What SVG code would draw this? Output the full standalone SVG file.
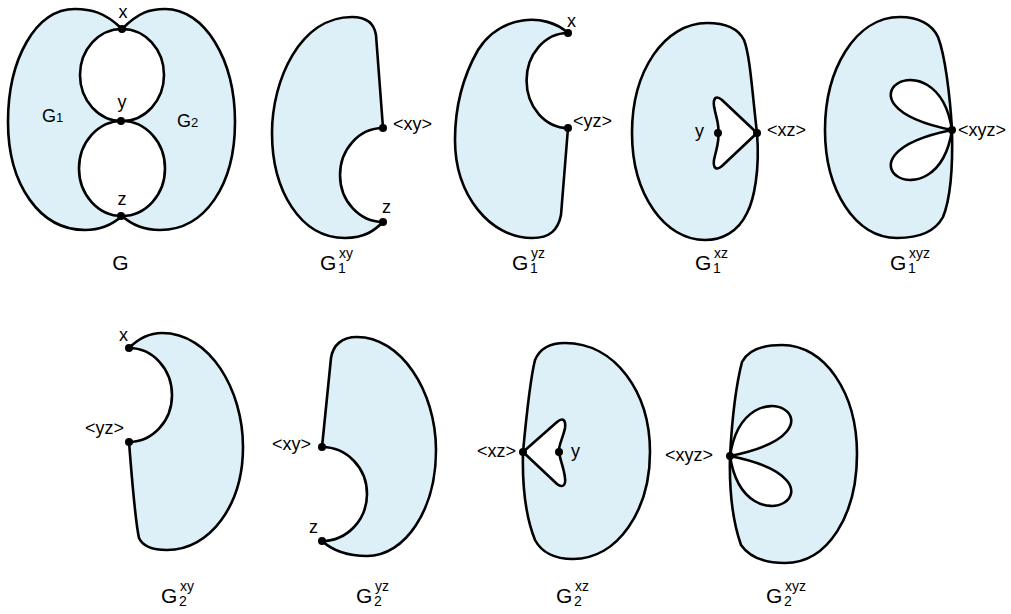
<svg xmlns="http://www.w3.org/2000/svg" width="1011" height="614" viewBox="0 0 1011 614">
<defs>
<style>
.sh{fill:#ddf0f8;stroke:#000;stroke-width:2.6;stroke-linejoin:round}
.fillonly{fill:#ddf0f8;stroke:none}
.ln{fill:none;stroke:#000;stroke-width:2.6}
.hole{fill:#fff;stroke:#000;stroke-width:2.6;stroke-linejoin:round}
.dot{fill:#000}
text{font-family:"Liberation Sans",Arial,sans-serif;fill:#000}
.lb{font-size:18px}
.big{font-size:21px}
.sm{font-size:14px}
</style>
</defs>
<rect width="1011" height="614" fill="#fff"/>

<g id="G">
<path class="fillonly" d="M122,29 C105,12 90,9 75,9 C35,9 8,60 8,122 C8,185 40,230 85,230 C100,230 112,225 122,216 Z"/>
<path class="fillonly" d="M122,29 C139,12 150,9 165,9 C205,9 235,60 235,122 C235,185 205,230 160,230 C145,230 132,225 122,216 Z"/>
<path class="ln" d="M122,29 C105,12 90,9 75,9 C35,9 8,60 8,122 C8,185 40,230 85,230 C100,230 112,225 122,216"/>
<path class="ln" d="M122,29 C139,12 150,9 165,9 C205,9 235,60 235,122 C235,185 205,230 160,230 C145,230 132,225 122,216"/>
<ellipse class="hole" cx="122" cy="75" rx="42" ry="46"/>
<ellipse class="hole" cx="122" cy="168.5" rx="43" ry="47.5"/>
<circle class="dot" cx="122" cy="29" r="4"/>
<circle class="dot" cx="121" cy="121" r="4"/>
<circle class="dot" cx="121" cy="216" r="4"/>
<text class="lb" x="123" y="18" text-anchor="middle">x</text>
<text class="lb" x="122" y="108" text-anchor="middle">y</text>
<text class="lb" x="122" y="205" text-anchor="middle">z</text>
<text class="lb" x="42" y="122">G<tspan font-size="13">1</tspan></text>
<text class="lb" x="177" y="127">G<tspan font-size="13">2</tspan></text>
<text class="big" x="120.5" y="270" text-anchor="middle">G</text>
</g>

<g id="G1xy">
<path class="sh" d="M383,128 L376,35 C374,22 365,17 352,17 C300,17 272,80 272,133 C272,190 300,238 345,238 C365,238 375,230 383,222 A43,47 0 0 1 383,128 Z"/>
<circle class="dot" cx="383" cy="128" r="4"/>
<circle class="dot" cx="383" cy="222" r="4"/>
<text class="lb" x="393" y="130">&lt;xy&gt;</text>
<text class="lb" x="382" y="213">z</text>
<text class="big" x="320" y="270">G</text>
<text class="sm" x="338" y="273">1</text>
<text class="sm" x="339" y="258">xy</text>
</g>

<g id="G1yz">
<path class="sh" d="M568,33 C545,12 500,15 478,50 C462,78 455,108 455,140 C455,195 490,238 532,238 C550,238 558,230 561,215 L568,128 A41,47 0 0 1 568,33 Z"/>
<circle class="dot" cx="568" cy="33" r="4"/>
<circle class="dot" cx="568" cy="128" r="4"/>
<text class="lb" x="567" y="27">x</text>
<text class="lb" x="573" y="127">&lt;yz&gt;</text>
<text class="big" x="512" y="270">G</text>
<text class="sm" x="530" y="273">1</text>
<text class="sm" x="531" y="258">yz</text>
</g>

<g id="G1xz">
<path class="sh" d="M707,23 C725,23 738,28 744,40 C750,55 752,90 757,133 C760,170 754,200 747,213 C738,232 722,240 705,240 C665,240 632,195 632,133 C632,70 665,23 707,23 Z"/>
<path class="hole" d="M757,133 L722,100 C716,95 713,98 714,106 C716,118 720,126 718,133 C720,140 716,150 714,160 C713,168 716,171 722,166 Z"/>
<circle class="dot" cx="757" cy="133" r="4"/>
<circle class="dot" cx="718" cy="133" r="4"/>
<text class="lb" x="695" y="137">y</text>
<text class="lb" x="767" y="136">&lt;xz&gt;</text>
<text class="big" x="695" y="270">G</text>
<text class="sm" x="713" y="273">1</text>
<text class="sm" x="714" y="258">xz</text>
</g>

<g id="G1xyz">
<path class="sh" d="M900,17 C918,17 932,24 938,37 C945,55 950,95 952,130 C953,170 950,200 943,217 C935,232 918,238 897,238 C855,238 825,190 825,130 C825,70 855,17 900,17 Z"/>
<path class="hole" d="M952,130 C937,32 822,104 952,130 Z"/>
<path class="hole" d="M952,130 C937,228 822,156 952,130 Z"/>
<circle class="dot" cx="952" cy="130" r="4"/>
<text class="lb" x="958" y="136">&lt;xyz&gt;</text>
<text class="big" x="890" y="270">G</text>
<text class="sm" x="908" y="273">1</text>
<text class="sm" x="909" y="258">xyz</text>
</g>

<g id="G2xy">
<path class="sh" d="M129,348 C140,337 150,333 162,333 C210,333 243,390 243,447 C243,505 210,550 167,550 C155,550 143,547 139,538 C135,520 132,480 129,442 A43,47 0 0 0 129,348 Z"/>
<circle class="dot" cx="129" cy="348" r="4"/>
<circle class="dot" cx="129" cy="442" r="4"/>
<text class="lb" x="119" y="341">x</text>
<text class="lb" x="85" y="434">&lt;yz&gt;</text>
<text class="big" x="161" y="603">G</text>
<text class="sm" x="179" y="606">2</text>
<text class="sm" x="180" y="591">xy</text>
</g>

<g id="G2yz">
<path class="sh" d="M322,447 L331,358 C333,345 342,337 357,337 C400,337 436,390 436,450 C436,510 405,556 367,556 C348,556 332,550 322,541 A45,47 0 0 0 322,447 Z"/>
<circle class="dot" cx="322" cy="447" r="4"/>
<circle class="dot" cx="322" cy="541" r="4"/>
<text class="lb" x="272" y="450">&lt;xy&gt;</text>
<text class="lb" x="309" y="533">z</text>
<text class="big" x="356" y="603">G</text>
<text class="sm" x="374" y="606">2</text>
<text class="sm" x="375" y="591">yz</text>
</g>

<g id="G2xz">
<path class="sh" d="M565,343 C550,343 540,348 535,360 C530,380 526,420 523,452 C522,490 527,520 535,540 C542,553 556,559 573,559 C618,559 650,510 650,452 C650,392 615,343 565,343 Z"/>
<path class="hole" d="M523,452 L557,422 C563,417 566,420 565,428 C563,438 558,446 559,452 C560,460 564,468 565,478 C566,486 562,488 557,484 Z"/>
<circle class="dot" cx="523" cy="452" r="4"/>
<circle class="dot" cx="559" cy="452" r="4"/>
<text class="lb" x="477" y="457">&lt;xz&gt;</text>
<text class="lb" x="571" y="457">y</text>
<text class="big" x="556" y="603">G</text>
<text class="sm" x="574" y="606">2</text>
<text class="sm" x="575" y="591">xz</text>
</g>

<g id="G2xyz">
<path class="sh" d="M782,345 C763,345 748,350 742,362 C736,385 732,420 730,456 C729,495 734,525 741,545 C750,558 765,563 785,563 C828,563 857,515 857,454 C857,393 825,345 782,345 Z"/>
<path class="hole" d="M730,456 C745,358 860,430 730,456 Z"/>
<path class="hole" d="M730,456 C745,554 860,482 730,456 Z"/>
<circle class="dot" cx="730" cy="456" r="4"/>
<text class="lb" x="665" y="461">&lt;xyz&gt;</text>
<text class="big" x="766" y="603">G</text>
<text class="sm" x="784" y="606">2</text>
<text class="sm" x="785" y="591">xyz</text>
</g>

<g id="connectors"></g>
</svg>
